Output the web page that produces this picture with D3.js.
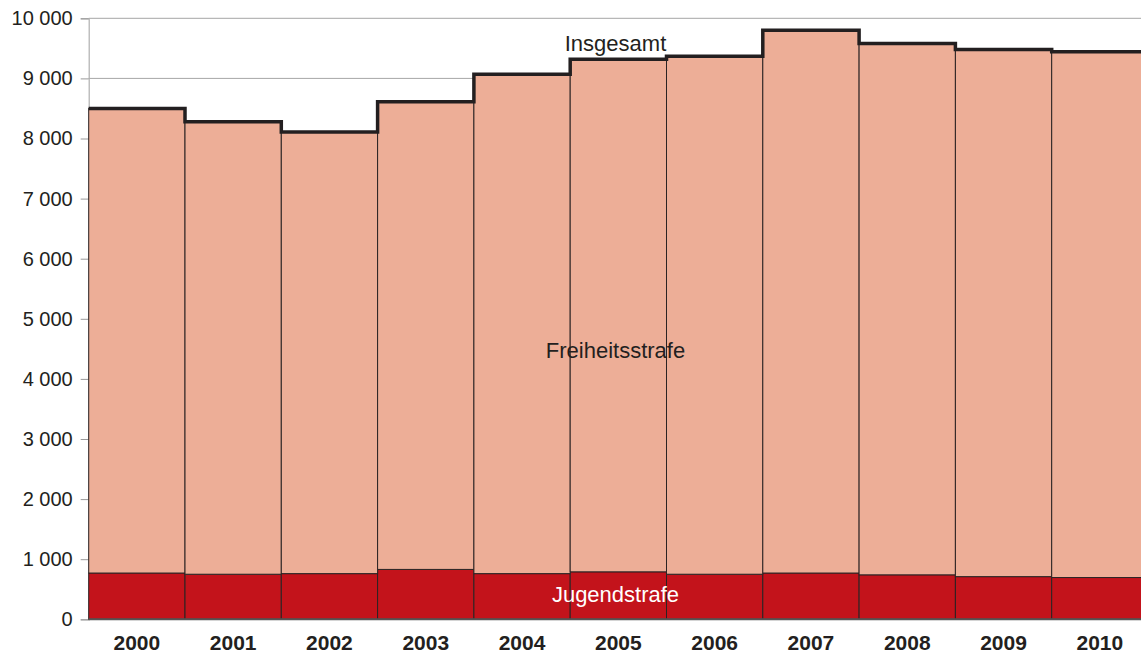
<!DOCTYPE html>
<html lang="de">
<head>
  <meta charset="UTF-8">
  <title>Jugendstrafe und Freiheitsstrafe</title>
  <style>
    body { margin: 0; background: #fff; }
    text { font-family: "Liberation Sans", Arial, sans-serif; }
  </style>
</head>
<body>
  <div id="svg"></div>
  <script src="https://d3js.org/d3.v7.min.js"></script>
  <script>
    const years = ['2000', '2001', '2002', '2003', '2004', '2005', '2006', '2007', '2008', '2009', '2010']
    const jugendstrafe = [770, 750, 760, 830, 760, 790, 750, 770, 740, 710, 695]
    const freiheitsstrafe = [7730, 7530, 7350, 7780, 8310, 8530, 8620, 9030, 8840, 8770, 8750]
    const yTicks = [0, 1000, 2000, 3000, 4000, 5000, 6000, 7000, 8000, 9000, 10000]

    const width = 1141
    const height = 657
    const padding = { top: 18.3, left: 88.7, bottom: 37.7 }

    const svg = d3.select('#svg').append('svg').attr('width', width).attr('height', height)

    const xScale = d3.scaleBand().domain(years).range([padding.left, padding.left + 96.3 * years.length]).padding(0)
    const yScale = d3.scaleLinear().domain([0, 10000]).range([height - padding.bottom, padding.top])

    const de = d3.formatLocale({ decimal: ',', thousands: ' ', grouping: [3], currency: ['', ''] })
    const fmt = de.format(',d')

    // gridlines
    svg.append('g').selectAll('line').data(yTicks.filter(d => d > 0)).enter().append('line')
      .attr('x1', padding.left).attr('x2', width)
      .attr('y1', d => yScale(d)).attr('y2', d => yScale(d))
      .attr('stroke', '#a6a6a6').attr('stroke-width', 1)

    // y axis
    const gY = svg.append('g').attr('transform', `translate(${padding.left},0)`)
      .call(d3.axisLeft(yScale).tickValues(yTicks).tickFormat(fmt).tickSize(8).tickPadding(8))
    gY.select('.domain').attr('stroke', '#b0b0b0').attr('stroke-width', 1.2)
    gY.selectAll('.tick line').attr('stroke', '#999')
    gY.selectAll('.tick text').attr('fill', '#231f20').attr('font-size', '20px')
      .attr('font-family', '"Liberation Sans", Arial, sans-serif')

    const stacked = years.map((y, i) => ({ year: y, j: jugendstrafe[i], f: freiheitsstrafe[i] }))
    const stack = d3.stack().keys(['j', 'f'])(stacked)
    const colors = { j: '#c3131b', f: '#edae97' }

    stack.forEach(layer => {
      svg.append('g').selectAll('rect').data(layer).enter().append('rect')
        .attr('x', d => xScale(d.data.year))
        .attr('width', xScale.bandwidth())
        .attr('y', d => yScale(d[1]))
        .attr('height', d => yScale(d[0]) - yScale(d[1]))
        .attr('fill', colors[layer.key])
        .attr('stroke', '#2b2323').attr('stroke-width', 1)
    })

    // zero line
    svg.append('line')
      .attr('x1', padding.left).attr('x2', width)
      .attr('y1', yScale(0)).attr('y2', yScale(0))
      .attr('stroke', '#555').attr('stroke-width', 2)

    // Insgesamt step line
    const tops = stack[1]
    let p = d3.path()
    tops.forEach((d, i) => {
      const x0 = xScale(d.data.year)
      const y = yScale(d[1])
      if (i === 0) p.moveTo(x0, y)
      else p.lineTo(x0, y)
      p.lineTo(x0 + xScale.bandwidth(), y)
    })
    svg.append('path').attr('d', p.toString())
      .attr('fill', 'none').attr('stroke', '#231f20').attr('stroke-width', 3.5)
      .attr('stroke-linejoin', 'miter')

    // x labels
    svg.append('g').selectAll('text').data(years).enter().append('text')
      .attr('x', d => xScale(d) + xScale.bandwidth() / 2)
      .attr('y', 650)
      .attr('text-anchor', 'middle')
      .attr('font-size', '21px').attr('font-weight', 'bold')
      .attr('fill', '#231f20')
      .text(d => d)

    // series labels
    const cx = 615.5
    svg.append('text').attr('x', cx).attr('y', 51).attr('text-anchor', 'middle')
      .attr('font-size', '22px').attr('fill', '#231f20').text('Insgesamt')
    svg.append('text').attr('x', cx).attr('y', 358).attr('text-anchor', 'middle')
      .attr('font-size', '22px').attr('fill', '#231f20').text('Freiheitsstrafe')
    svg.append('text').attr('x', cx).attr('y', 602).attr('text-anchor', 'middle')
      .attr('font-size', '22px').attr('fill', '#fff').text('Jugendstrafe')
  </script>
</body>
</html>
